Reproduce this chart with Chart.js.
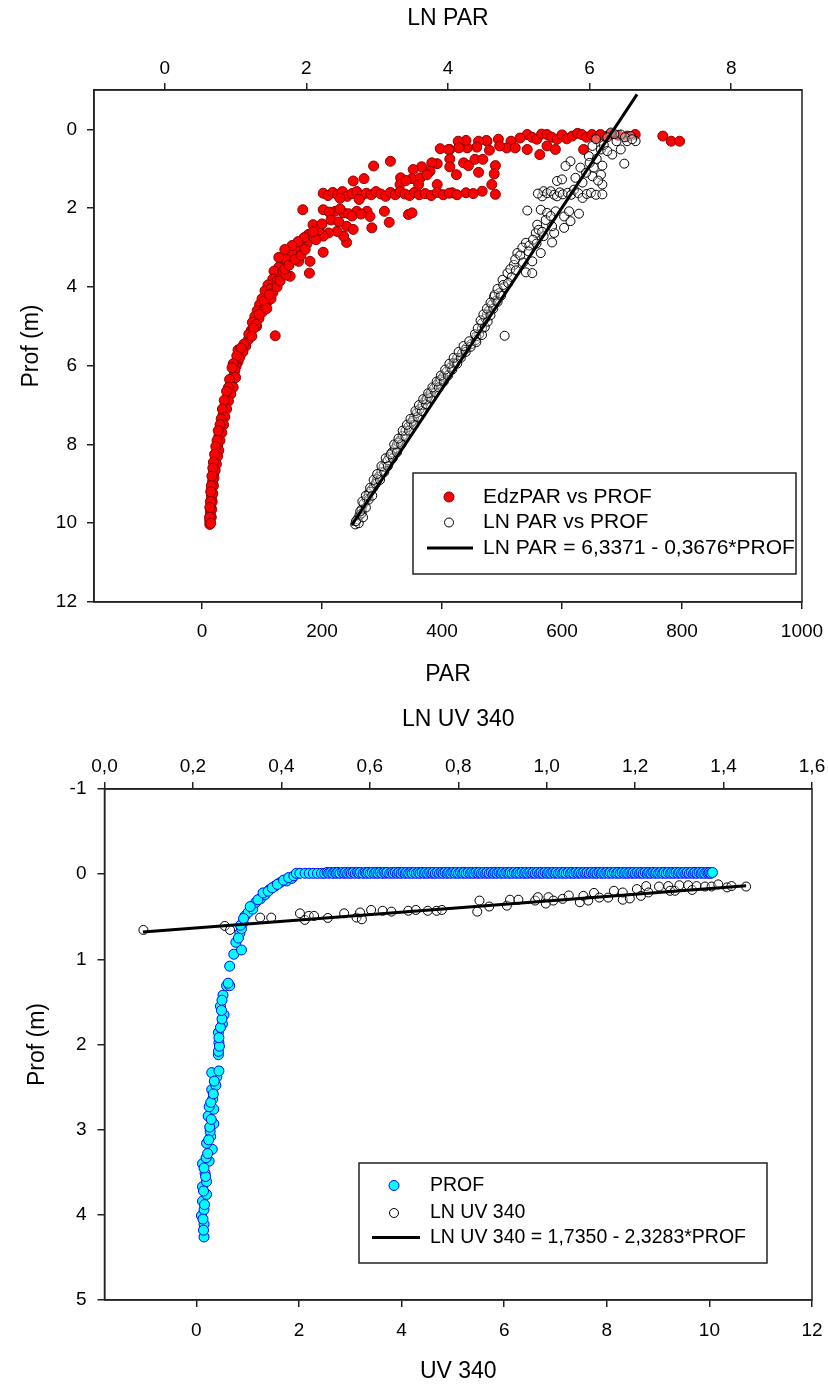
<!DOCTYPE html>
<html>
<head>
<meta charset="utf-8">
<title>PAR / UV 340 profiles</title>
<script src="https://cdn.jsdelivr.net/npm/chart.js@4/dist/chart.umd.min.js"></script>
<style>
  html, body { margin: 0; padding: 0; background: #fff; }
  #page { position: relative; width: 828px; height: 1385px; }
  canvas { position: absolute; left: 0; }
  #parChart { top: 0; }
  #uvChart { top: 690px; }
</style>
</head>
<body>
<div id="page">
  <canvas id="parChart" width="828" height="690"></canvas>
  <canvas id="uvChart" width="828" height="695"></canvas>
</div>
<script>
/**
 * ============================================
 * PROFILES - PAR and UV 340 against depth
 * ============================================
 */

const FONT = "'Liberation Sans', Arial, sans-serif";
const AXIS_COLOR = '#222';
const TICK_SIZE = 19;
const TITLE_SIZE = 23;

// ---- top panel ----
const PAR_TICKS = [0, 200, 400, 600, 800, 1000];
const LN_PAR_TICKS = [0, 2, 4, 6, 8];
const PROF_TICKS_PAR = [0, 2, 4, 6, 8, 10, 12];

// EdzPAR vs PROF : [PAR, depth]
const edzPar = [
  [542, 0.13], [550, 0.2], [558, 0.25], [566, 0.12], [575, 0.13], [583, 0.2], [592, 0.25], [600, 0.14],
  [608, 0.24], [617, 0.17], [626, 0.1], [633, 0.13], [641, 0.2], [650, 0.13], [657, 0.22], [664, 0.13],
  [672, 0.18], [681, 0.12], [694, 0.15], [709, 0.17], [722, 0.13], [768, 0.17], [782, 0.3], [796, 0.3],
  [530, 0.22], [515, 0.3], [508, 0.47], [522, 0.47], [542, 0.51], [563, 0.64], [575, 0.42], [589, 0.51],
  [636, 0.51], [494, 0.25], [496, 0.42], [475, 0.3], [474, 0.28], [461, 0.3], [479, 0.53], [458, 0.45],
  [442, 0.47], [440, 0.28], [429, 0.45], [427, 0.3], [428, 0.47], [413, 0.51], [397, 0.49], [411, 0.51],
  [413, 0.75], [413, 0.95], [436, 0.85], [444, 0.92], [455, 0.76], [468, 0.76], [461, 1.09], [489, 0.92],
  [487, 1.13], [483, 1.4], [489, 1.65], [467, 1.57], [440, 1.61], [424, 1.15], [417, 1.61],
  [392, 0.87], [383, 0.85], [380, 1.06], [366, 0.95], [352, 1.02], [350, 1.25], [364, 1.23], [331, 1.23],
  [330, 1.4], [361, 1.4], [392, 1.4], [314, 0.81], [286, 0.93], [270, 1.25], [252, 1.31], [340, 1.3], [375, 1.15],
  [202, 1.62], [210, 1.68], [218, 1.6], [226, 1.66], [234, 1.58], [242, 1.7], [250, 1.63], [258, 1.58],
  [266, 1.68], [274, 1.62], [282, 1.66], [290, 1.58], [298, 1.64], [306, 1.7], [314, 1.6], [322, 1.66],
  [330, 1.58], [338, 1.64], [346, 1.68], [354, 1.6], [362, 1.66], [372, 1.63], [382, 1.68], [392, 1.6],
  [402, 1.66], [412, 1.62], [425, 1.66], [452, 1.63], [230, 1.75], [262, 1.78],
  [168, 2.04], [202, 2.04], [222, 2.08], [236, 2.12], [244, 2.14], [258, 2.08], [275, 2.08], [280, 2.21],
  [304, 2.08], [312, 2.36], [283, 2.5], [344, 2.16], [350, 2.12], [212, 2.1], [230, 2.02], [250, 2.2], [265, 2.15],
  [241, 2.46], [252, 2.54], [241, 2.87], [236, 2.71], [225, 2.59], [211, 2.63], [202, 2.71], [202, 3.12],
  [185, 2.42], [177, 2.67], [169, 2.97], [163, 3.1], [180, 3.35], [179, 3.65], [161, 3.35], [147, 3.22],
  [141, 3.44], [133, 3.39], [147, 3.73], [130, 3.73], [122, 3.99], [113, 4.24], [102, 4.58], [91, 5.0],
  [122, 5.24], [77, 5.34], [63, 5.77],
  [195, 2.55], [190, 2.8], [175, 2.9], [158, 3.0], [150, 3.15], [140, 3.3], [128, 3.5], [120, 3.6],
  [118, 3.8], [110, 3.95], [105, 4.1], [100, 4.3], [96, 4.45], [92, 4.6], [88, 4.75], [84, 4.9],
  [82, 5.1], [78, 5.2], [215, 2.3], [228, 2.35], [200, 2.4], [185, 2.6], [170, 2.75], [160, 2.85],
  [150, 2.95], [138, 3.05], [128, 3.25], [135, 3.6], [125, 3.85], [115, 4.05], [108, 4.4],
  [115, 4.3], [106, 4.5], [100, 4.65], [95, 4.8], [90, 4.95], [86, 5.05], [83, 5.25], [118, 4.15],
  [125, 4.0], [130, 3.85], [140, 3.7], [95, 4.7], [104, 4.35], [112, 4.2], [138, 3.55], [145, 3.45],
  [155, 3.3], [165, 3.2], [172, 3.05], [108, 4.55],
  [73, 5.5], [68, 5.65], [60, 5.9], [57, 6.0], [54, 6.15], [52, 6.28], [50, 6.4], [49, 6.5],
  [47, 6.62], [45, 6.7], [42, 6.8], [40, 6.92], [38, 7.04], [36, 7.15], [35, 7.25], [34, 7.35],
  [33, 7.46], [31, 7.6], [30, 7.7], [28, 7.8], [27, 7.89], [26, 8.0], [25, 8.1], [24, 8.2],
  [23, 8.31], [22, 8.4], [21, 8.5], [20, 8.62], [19, 8.74], [18, 8.85], [17.5, 8.95], [17, 9.05],
  [16, 9.16], [16, 9.28], [15.5, 9.4], [15, 9.5], [15, 9.59], [14, 9.7], [14, 9.8], [13.5, 9.9], [13, 10.03],
  [62, 5.8], [55, 6.1], [48, 6.45], [44, 6.75], [39, 7.0], [36, 7.3], [32, 7.55], [29, 7.75],
  [26, 8.05], [23, 8.35], [20, 8.7], [18, 9.0], [16, 9.3], [14.5, 9.65], [13, 9.95],
  [60, 5.6], [70, 5.45], [65, 5.55], [58, 5.75], [52, 5.95], [50, 6.05], [56, 6.3], [46, 6.35],
  [52, 6.55], [44, 6.55], [48, 6.72], [41, 6.65], [44, 6.9], [37, 6.88], [41, 7.1], [34, 7.1],
  [38, 7.3], [32, 7.35], [36, 7.5], [30, 7.5], [33, 7.7], [27, 7.65], [30, 7.9], [25, 7.9],
  [28, 8.15], [23, 8.05], [26, 8.3], [21, 8.25], [24, 8.5], [19, 8.45], [22, 8.65], [18, 8.6],
  [20, 8.85], [16.5, 8.8], [19, 9.05], [15.5, 9.05], [18, 9.25], [14.5, 9.2], [17, 9.45], [14, 9.45],
  [16, 9.65], [13, 9.6], [15.5, 9.85], [12.5, 9.85], [14.5, 10.0]
];

// LN PAR vs PROF : [ln PAR, depth]
const lnPar = [
  [2.69, 10.03], [2.72, 9.9], [2.75, 9.8], [2.78, 9.65], [2.81, 9.5], [2.85, 9.38], [2.88, 9.25], [2.92, 9.15],
  [2.95, 9.08], [2.99, 8.95], [3.02, 8.82], [3.06, 8.7], [3.09, 8.57], [3.13, 8.45], [3.17, 8.32], [3.21, 8.2],
  [3.25, 8.1], [3.28, 8.0], [3.32, 7.9], [3.36, 7.78], [3.4, 7.65], [3.44, 7.55], [3.48, 7.45], [3.52, 7.32],
  [3.56, 7.2], [3.6, 7.1], [3.64, 7.0], [3.68, 6.88], [3.72, 6.78], [3.76, 6.68], [3.8, 6.58], [3.84, 6.48],
  [3.88, 6.38], [3.93, 6.28], [3.98, 6.15], [4.03, 6.05], [4.08, 5.92], [4.13, 5.8], [4.2, 5.68], [4.26, 5.55],
  [4.33, 5.45], [4.39, 5.35], [4.44, 5.2], [4.48, 5.05], [4.48, 4.92], [4.53, 4.8], [4.58, 4.6], [4.62, 4.45],
  [4.65, 4.25], [4.72, 4.16], [4.77, 3.82], [4.8, 4.0],
  [2.78, 9.75], [2.9, 9.2], [3.0, 8.88], [3.15, 8.4], [3.3, 7.95], [3.5, 7.4], [3.7, 6.85], [3.9, 6.35],
  [4.1, 5.95], [4.24, 5.6], [4.4, 5.25], [4.55, 4.7], [4.68, 4.35], [4.8, 5.24],
  [2.74, 10.0], [2.7, 9.95], [2.8, 9.85], [2.76, 9.7], [2.84, 9.6], [2.79, 9.45], [2.88, 9.4], [2.84, 9.3],
  [2.93, 9.3], [2.9, 9.1], [2.98, 9.0], [2.95, 8.9], [3.04, 8.9], [3.0, 8.75], [3.1, 8.7], [3.06, 8.55],
  [3.15, 8.55], [3.12, 8.35], [3.22, 8.35], [3.19, 8.25], [3.28, 8.2], [3.24, 8.0], [3.34, 8.0], [3.3, 7.85],
  [3.4, 7.8], [3.36, 7.65], [3.45, 7.65], [3.42, 7.5], [3.52, 7.5], [3.47, 7.35], [3.57, 7.3], [3.54, 7.15],
  [3.63, 7.15], [3.59, 7.0], [3.69, 6.98], [3.65, 6.85], [3.75, 6.82], [3.72, 6.7], [3.82, 6.68], [3.78, 6.55],
  [3.87, 6.55], [3.84, 6.4], [3.94, 6.4], [3.9, 6.25], [4.0, 6.25], [3.96, 6.1], [4.06, 6.1], [4.02, 5.95],
  [4.13, 5.95], [4.08, 5.8], [4.18, 5.8], [4.15, 5.65], [4.25, 5.65], [4.22, 5.5], [4.32, 5.52], [4.3, 5.38],
  [4.4, 5.4], [4.38, 5.2], [4.48, 5.22], [4.42, 5.05], [4.52, 5.02], [4.46, 4.85], [4.56, 4.88], [4.5, 4.7],
  [4.6, 4.72], [4.55, 4.55], [4.64, 4.55], [4.6, 4.4], [4.7, 4.38], [4.66, 4.2], [4.75, 4.22], [4.7, 4.05],
  [4.78, 3.95],
  [4.84, 3.65], [5.1, 3.63], [5.19, 3.65], [4.93, 3.44], [5.19, 3.35], [4.98, 3.14], [5.31, 3.14], [5.1, 2.88],
  [5.47, 2.87], [5.24, 2.63], [5.35, 2.71], [5.5, 2.63], [5.26, 2.42], [5.47, 2.46], [5.64, 2.5], [5.73, 2.33],
  [5.12, 2.06], [5.31, 2.04], [5.4, 2.12], [5.52, 2.08], [5.64, 2.21], [5.71, 2.08], [5.85, 2.14],
  [4.88, 3.55], [4.95, 3.3], [5.02, 3.2], [5.05, 3.0], [5.15, 2.95], [5.2, 2.8], [5.28, 2.55], [5.38, 2.3],
  [5.45, 2.2], [4.9, 3.75], [4.85, 3.9], [4.96, 3.58], [5.06, 3.38], [5.14, 3.1], [5.25, 2.9], [5.33, 2.6],
  [5.33, 1.7], [5.35, 1.57], [5.4, 1.62], [5.45, 1.57], [5.5, 1.66], [5.54, 1.7], [5.58, 1.6], [5.62, 1.65],
  [5.69, 1.61], [5.74, 1.66], [5.78, 1.53], [5.84, 1.62], [5.9, 1.74], [5.96, 1.64], [6.02, 1.61], [6.09, 1.66],
  [6.18, 1.65], [5.27, 1.63],
  [5.54, 1.31], [5.61, 1.27], [5.8, 1.23], [6.04, 1.19], [6.16, 1.15], [6.18, 1.4], [5.73, 0.81], [5.66, 0.93],
  [5.87, 0.97], [6.06, 0.97], [6.18, 0.92], [5.99, 0.68], [6.32, 0.64], [6.44, 0.51], [6.16, 0.51], [6.04, 0.42],
  [6.09, 0.25], [6.3, 0.08], [6.44, 0.13], [6.58, 0.17], [6.65, 0.3], [6.53, 0.3], [6.49, 0.87], [5.95, 1.1],
  [6.0, 0.85], [6.1, 0.75], [6.2, 0.4], [6.25, 0.2], [6.38, 0.3], [6.5, 0.2], [6.12, 1.3], [5.9, 1.35],
  [6.25, 0.55], [6.35, 0.12], [6.6, 0.25]
];

// LN PAR = 6,3371 - 0,3676*PROF, end points as drawn
const lnParFit = [[6.67, -0.89], [2.64, 10.05]];

// ---- bottom panel ----
const UV_TICKS = [0, 2, 4, 6, 8, 10, 12];
const LN_UV_TICKS = [0, 0.2, 0.4, 0.6, 0.8, 1.0, 1.2, 1.4, 1.6];
const PROF_TICKS_UV = [-1, 0, 1, 2, 3, 4, 5];

// PROF (UV 340) below the surface : [UV 340, depth]
const uvProf = [
  [0.15, 4.26], [0.15, 4.11], [0.1, 4.01], [0.15, 3.94], [0.12, 3.84], [0.2, 3.76], [0.12, 3.67], [0.2, 3.61],
  [0.17, 3.51], [0.12, 3.4], [0.25, 3.37], [0.19, 3.33], [0.31, 3.23], [0.2, 3.16], [0.28, 3.08], [0.27, 3.02],
  [0.34, 2.93], [0.23, 2.84], [0.34, 2.76], [0.25, 2.73], [0.32, 2.64], [0.3, 2.53], [0.38, 2.48], [0.4, 2.38],
  [0.3, 2.33], [0.44, 2.31],
  [0.14, 4.18], [0.13, 4.05], [0.16, 3.88], [0.14, 3.72], [0.18, 3.55], [0.15, 3.45], [0.22, 3.28], [0.24, 3.12],
  [0.26, 2.97], [0.29, 2.88], [0.28, 2.68], [0.33, 2.58], [0.35, 2.43],
  [0.43, 2.12], [0.43, 2.08], [0.44, 1.98], [0.43, 1.86], [0.51, 1.76], [0.54, 1.65], [0.47, 1.55], [0.52, 1.42],
  [0.59, 1.31], [0.65, 1.31], [0.65, 1.08], [0.73, 0.94], [0.88, 0.89], [0.77, 0.8], [0.85, 0.69], [0.88, 0.64],
  [0.91, 0.57], [0.95, 0.49], [1.01, 0.45], [1.1, 0.41], [1.16, 0.33], [1.25, 0.29], [1.34, 0.24], [1.43, 0.18],
  [1.53, 0.14], [1.63, 0.1], [1.76, 0.08], [1.86, 0.05],
  [0.45, 2.02], [0.44, 1.92], [0.47, 1.8], [0.5, 1.7], [0.49, 1.6], [0.5, 1.48], [0.62, 1.28], [0.82, 0.75],
  [0.86, 0.6], [0.92, 0.52], [1.05, 0.38], [1.2, 0.3], [1.3, 0.22], [1.4, 0.2], [1.48, 0.16], [1.58, 0.12],
  [1.7, 0.07], [1.8, 0.04], [1.9, 0.02]
];

// PROF (UV 340) surface readings: UV 340 values at depth -0,02 and -0,01
const uvSurfaceA = [
  2.55, 2.62, 2.7, 2.76, 2.85, 2.91, 2.99, 3.06, 3.14, 3.2, 3.29, 3.35, 3.43, 3.5, 3.58, 3.66, 3.72, 3.81,
  3.88, 3.95, 4.03, 4.1, 4.18, 4.25, 4.33, 4.4, 4.47, 4.55, 4.62, 4.7, 4.78, 4.85, 4.92, 5.0, 5.07, 5.15,
  5.22, 5.3, 5.37, 5.45, 5.52, 5.6, 5.67, 5.75, 5.82, 5.9, 5.97, 6.05, 6.12, 6.2, 6.27, 6.35, 6.42, 6.5,
  6.57, 6.65, 6.72, 6.8, 6.87, 6.95, 7.02, 7.1, 7.17, 7.25, 7.32, 7.4, 7.47, 7.55, 7.62, 7.7, 7.77, 7.85,
  7.92, 8.0, 8.07, 8.15, 8.22, 8.3, 8.37, 8.45, 8.52, 8.6, 8.67, 8.75, 8.82, 8.9, 8.97, 9.05, 9.12, 9.2,
  9.27, 9.35, 9.42, 9.5, 9.57, 9.65, 9.72, 9.8, 9.87, 9.95, 10.0, 10.06
];
const uvSurfaceB = [
  1.95, 2.02, 2.12, 2.2, 2.28, 2.36, 2.44, 2.5, 2.58, 2.66, 2.73, 2.8, 2.88, 2.95, 3.02, 3.1, 3.17, 3.25,
  3.32, 3.39, 3.47, 3.54, 3.62, 3.69, 3.77, 3.84, 3.92, 3.99, 4.07, 4.14, 4.21, 4.29, 4.36, 4.44, 4.51, 4.59,
  4.66, 4.74, 4.81, 4.89, 4.96, 5.04, 5.11, 5.19, 5.26, 5.34, 5.41, 5.49, 5.56, 5.64, 5.71, 5.79, 5.86, 5.94,
  6.01, 6.09, 6.16, 6.24, 6.31, 6.39, 6.46, 6.54, 6.61, 6.69, 6.76, 6.84, 6.91, 6.99, 7.06, 7.14, 7.21, 7.29,
  7.36, 7.44, 7.51, 7.59, 7.66, 7.74, 7.81, 7.89, 7.96, 8.04, 8.11, 8.19, 8.26, 8.34, 8.41, 8.49, 8.56, 8.64,
  8.71, 8.79, 8.86, 8.94, 9.01, 9.09, 9.16, 9.24, 9.31, 9.39, 9.46, 9.54, 9.61, 9.69, 9.76, 9.84, 9.91, 9.98, 10.03
];

// LN UV 340 : [ln UV 340, depth]
const lnUv = [
  [0.088, 0.655], [0.272, 0.608], [0.284, 0.655], [0.352, 0.51], [0.377, 0.51], [0.442, 0.46], [0.453, 0.537],
  [0.462, 0.49], [0.474, 0.49], [0.505, 0.514], [0.542, 0.46], [0.57, 0.51], [0.582, 0.53], [0.578, 0.45],
  [0.603, 0.42], [0.629, 0.43], [0.649, 0.44], [0.687, 0.43], [0.704, 0.42], [0.731, 0.43], [0.751, 0.43],
  [0.763, 0.42], [0.848, 0.31], [0.843, 0.44], [0.87, 0.38], [0.91, 0.37], [0.917, 0.3], [0.936, 0.3],
  [0.974, 0.31], [0.98, 0.27], [0.998, 0.345], [1.004, 0.27], [1.015, 0.31], [1.036, 0.29], [1.05, 0.25],
  [1.075, 0.33], [1.083, 0.255], [1.094, 0.31], [1.107, 0.22], [1.119, 0.275], [1.139, 0.275], [1.152, 0.195],
  [1.172, 0.3], [1.172, 0.215], [1.188, 0.285], [1.204, 0.175], [1.213, 0.255], [1.225, 0.14], [1.23, 0.215],
  [1.254, 0.145], [1.275, 0.14], [1.279, 0.195], [1.29, 0.195], [1.3, 0.13], [1.32, 0.13], [1.329, 0.185],
  [1.339, 0.14], [1.358, 0.145], [1.373, 0.145], [1.388, 0.12], [1.408, 0.155], [1.418, 0.14], [1.451, 0.145]
];

// LN UV 340 = 1,7350 - 2,3283*PROF, end points as drawn
const lnUvFit = [[0.087, 0.68], [1.451, 0.135]];

/**
 * [x, y] pairs -> Chart.js points
 */
const toXY = pts => pts.map(([x, y]) => ({ x, y }));

/**
 * Surface readings of UV 340, drawn left to right like the original
 */
function surfacePoints() {
  const pts = uvSurfaceA.map(x => ({ x, y: -0.02 }))
    .concat(uvSurfaceB.map(x => ({ x, y: -0.01 })));
  return pts.sort((a, b) => a.x - b.x);
}

/**
 * Linear axis with fixed tick values and a fixed box size,
 * so the plot area lands where the original one is.
 */
function linearAxis(o) {
  return {
    type: 'linear',
    position: o.position,
    min: o.min,
    max: o.max,
    reverse: !!o.reverse,
    afterBuildTicks: s => { s.ticks = o.ticks.map(v => ({ value: v })); },
    afterFit: s => {
      if (s.isHorizontal()) s.height = o.size; else s.width = o.size;
      s.paddingLeft = s.paddingRight = s.paddingTop = s.paddingBottom = 0;
    },
    ticks: {
      padding: o.tickPad,
      color: '#000',
      font: { size: TICK_SIZE },
      autoSkip: false,
      maxRotation: 0,
      callback: o.format || (v => String(v))
    },
    grid: { drawOnChartArea: false, drawTicks: true, tickLength: 7, color: AXIS_COLOR, lineWidth: 1.5 },
    border: { display: true, color: AXIS_COLOR, width: 1.5 },
    title: { display: true, text: o.title, color: '#000', font: { size: TITLE_SIZE }, padding: o.titlePad }
  };
}

// plot frame (closes the right side)
const frame = {
  id: 'frame',
  afterDatasetsDraw(chart) {
    const { ctx, chartArea: a } = chart;
    ctx.save();
    ctx.strokeStyle = AXIS_COLOR;
    ctx.lineWidth = 1.5;
    ctx.strokeRect(a.left, a.top, a.right - a.left, a.bottom - a.top);
    ctx.restore();
  }
};

// boxed legend inside the plot, bottom right
const boxLegend = {
  id: 'boxLegend',
  afterDraw(chart, args, opts) {
    const { ctx, chartArea: a } = chart;
    const left = a.right - opts.right - opts.width;
    const top = a.bottom - opts.bottom - opts.height;
    ctx.save();
    ctx.fillStyle = '#fff';
    ctx.fillRect(left, top, opts.width, opts.height);
    ctx.strokeStyle = AXIS_COLOR;
    ctx.lineWidth = 1.5;
    ctx.strokeRect(left, top, opts.width, opts.height);
    ctx.font = `${opts.fontSize}px ${FONT}`;
    ctx.textBaseline = 'middle';
    chart.data.datasets.forEach((ds, i) => {
      const y = top + opts.rows[i];
      if (ds.showLine) {
        ctx.beginPath();
        ctx.moveTo(left + opts.lineFrom, y);
        ctx.lineTo(left + opts.lineTo, y);
        ctx.strokeStyle = ds.borderColor;
        ctx.lineWidth = ds.borderWidth;
        ctx.stroke();
      } else {
        ctx.beginPath();
        ctx.arc(left + opts.markX, y, ds.pointRadius, 0, Math.PI * 2);
        ctx.fillStyle = ds.legendFill || ds.backgroundColor;
        ctx.fill();
        ctx.strokeStyle = ds.borderColor;
        ctx.lineWidth = ds.borderWidth;
        ctx.stroke();
      }
      ctx.fillStyle = '#000';
      ctx.fillText(ds.label, left + opts.textX, y);
    });
    ctx.restore();
  }
};

Chart.defaults.font.family = FONT;
Chart.defaults.color = '#000';

// ---------- PAR ----------
new Chart(document.getElementById('parChart'), {
  type: 'scatter',
  data: {
    datasets: [
      {
        label: 'EdzPAR vs PROF', data: toXY(edzPar), xAxisID: 'x', yAxisID: 'y',
        backgroundColor: '#ff0000', borderColor: '#8b0000', borderWidth: 1, pointRadius: 5, order: 2
      },
      {
        label: 'LN PAR vs PROF', data: toXY(lnPar), xAxisID: 'x2', yAxisID: 'y',
        backgroundColor: 'rgba(255,255,255,0.35)', legendFill: '#ffffff',
        borderColor: '#000000', borderWidth: 1, pointRadius: 4.5, order: 1
      },
      {
        label: 'LN PAR = 6,3371 - 0,3676*PROF', data: toXY(lnParFit), xAxisID: 'x2', yAxisID: 'y',
        showLine: true, borderColor: '#000000', borderWidth: 3, pointRadius: 0, order: 0
      }
    ]
  },
  options: {
    responsive: false,
    animation: false,
    events: [],
    layout: { padding: { top: 0, left: 0, right: 26, bottom: 0 } },
    scales: {
      x: linearAxis({ position: 'bottom', min: -180, max: 1000, ticks: PAR_TICKS, size: 88,
        tickPad: 11, title: 'PAR', titlePad: { top: 0, bottom: 2 } }),
      x2: linearAxis({ position: 'top', min: -1, max: 9, ticks: LN_PAR_TICKS, size: 90,
        tickPad: 3, title: 'LN PAR', titlePad: { top: 5, bottom: 0 } }),
      y: linearAxis({ position: 'left', min: -1, max: 12, reverse: true, ticks: PROF_TICKS_PAR, size: 94,
        tickPad: 10, title: 'Prof (m)', titlePad: { top: 18, bottom: 0 } })
    },
    plugins: {
      legend: { display: false },
      tooltip: { enabled: false },
      boxLegend: { right: 6, bottom: 28, width: 383, height: 101, rows: [24, 49.5, 75],
        markX: 36, lineFrom: 14, lineTo: 60, textX: 70, fontSize: 21 }
    }
  },
  plugins: [frame, boxLegend]
});

// ---------- UV 340 ----------
new Chart(document.getElementById('uvChart'), {
  type: 'scatter',
  data: {
    datasets: [
      {
        label: 'PROF',
        data: toXY(uvProf).concat(surfacePoints()),
        xAxisID: 'x', yAxisID: 'y',
        backgroundColor: '#00ffff', borderColor: '#0000ff', borderWidth: 1, pointRadius: 5, order: 2
      },
      {
        label: 'LN UV 340', data: toXY(lnUv), xAxisID: 'x2', yAxisID: 'y',
        backgroundColor: 'rgba(255,255,255,0.35)', legendFill: '#ffffff',
        borderColor: '#000000', borderWidth: 1, pointRadius: 4.5, order: 1
      },
      {
        label: 'LN UV 340 = 1,7350 - 2,3283*PROF', data: toXY(lnUvFit), xAxisID: 'x2', yAxisID: 'y',
        showLine: true, borderColor: '#000000', borderWidth: 3, pointRadius: 0, order: 0
      }
    ]
  },
  options: {
    responsive: false,
    animation: false,
    events: [],
    layout: { padding: { top: 0, left: 0, right: 16, bottom: 0 } },
    scales: {
      x: linearAxis({ position: 'bottom', min: -1.79, max: 12, ticks: UV_TICKS, size: 85,
        tickPad: 12, title: 'UV 340', titlePad: { top: 0, bottom: 0 } }),
      x2: linearAxis({ position: 'top', min: 0, max: 1.6, ticks: LN_UV_TICKS, size: 99,
        tickPad: 4, title: 'LN UV 340', titlePad: { top: 16, bottom: 0 },
        format: v => v.toFixed(1).replace('.', ',') }),
      y: linearAxis({ position: 'left', min: -1, max: 5, reverse: true, ticks: PROF_TICKS_UV, size: 104.5,
        tickPad: 11, title: 'Prof (m)', titlePad: { top: 24, bottom: 0 } })
    },
    plugins: {
      legend: { display: false },
      tooltip: { enabled: false },
      boxLegend: { right: 45, bottom: 37, width: 408, height: 100, rows: [22.5, 50, 74.5],
        markX: 35, lineFrom: 13, lineTo: 61, textX: 71, fontSize: 19.5 }
    }
  },
  plugins: [frame, boxLegend]
});
</script>
</body>
</html>
